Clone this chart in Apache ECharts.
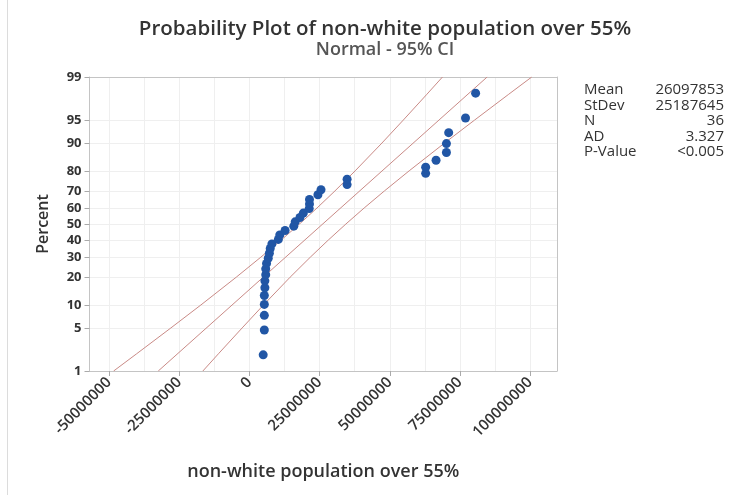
<!DOCTYPE html>
<html>
<head>
<meta charset="utf-8">
<script src="https://cdn.jsdelivr.net/npm/echarts@6/dist/echarts.min.js"></script>
<style>
  html, body { margin: 0; padding: 0; background: #fff; }
  #chart { width: 738px; height: 495px; }
</style>
</head>
<body>
<div id="chart"></div>
<script>
// percent (plotting positions) and observed values
const pointPct = [1.92, 4.67, 7.42, 10.16, 12.91, 15.66, 18.41, 21.15, 23.90, 26.65, 29.40, 32.14,
  34.89, 37.64, 40.38, 43.13, 45.88, 48.63, 51.37, 54.12, 56.87, 59.62, 62.36, 65.11,
  67.86, 70.60, 73.35, 76.10, 78.85, 81.59, 84.34, 87.09, 89.84, 92.58, 95.33, 98.08];
const pointX = [4900000, 5300000, 5300000, 5300000, 5300000, 5500000, 5500000, 5800000, 5800000, 6100000,
  6700000, 7100000, 7400000, 8000000, 10300000, 10800000, 12700000, 15800000, 16300000, 18000000,
  19200000, 21300000, 21400000, 21400000, 24400000, 25500000, 34800000, 34800000,
  62800000, 62800000, 66500000, 70200000, 70200000, 71000000, 77000000, 80600000];

// fitted line and 95% CI bands
const fitPct = [1, 99];
const fitX = [-32500000, 84700000];
const ciPct = [1, 2, 5, 10, 20, 30, 40, 50, 60, 70, 80, 90, 95, 98, 99];
const ciLeftX = [-48400000, -40200000, -28000000, -17300000, -4700000, 4070000, 11320000, 17830000,
  24080000, 30490000, 37680000, 47220000, 54830000, 63250000, 68790000];
const ciRightX = [-16600000, -11050000, -2600000, 5000000, 14500000, 21710000, 28120000, 34370000,
  40880000, 48130000, 56920000, 69540000, 80230000, 92410000, 100590000];

// axis ticks
const yTickPct = [1, 5, 10, 20, 30, 40, 50, 60, 70, 80, 90, 95, 99];
const xTicks = [-50000000, -25000000, 0, 25000000, 50000000, 75000000, 100000000];
const xGridTicks = [-50000000, -37500000, -25000000, -12500000, 0, 12500000, 25000000, 37500000,
  50000000, 62500000, 75000000, 87500000, 100000000];

const statNames = ['Mean', 'StDev', 'N', 'AD', 'P-Value'];
const statValues = ['26097853', '25187645', '36', '3.327', '<0.005'];

// inverse normal CDF (Acklam) -> probability scale
function invNorm(p) {
  const a = [-39.6968302866538, 220.946098424521, -275.928510446969, 138.357751867269, -30.6647980661472, 2.50662827745924];
  const b = [-54.4760987982241, 161.585836858041, -155.698979859887, 66.8013118877197, -13.2806815528857];
  const c = [-0.00778489400243029, -0.322396458041136, -2.40075827716184, -2.54973253934373, 4.37466414146497, 2.93816398269878];
  const d = [0.00778469570904146, 0.32246712907004, 2.445134137143, 3.75440866190742];
  const pl = 0.02425;
  let q, r;
  if (p < pl) {
    q = Math.sqrt(-2 * Math.log(p));
    return (((((c[0] * q + c[1]) * q + c[2]) * q + c[3]) * q + c[4]) * q + c[5]) / ((((d[0] * q + d[1]) * q + d[2]) * q + d[3]) * q + 1);
  }
  if (p > 1 - pl) {
    q = Math.sqrt(-2 * Math.log(1 - p));
    return -(((((c[0] * q + c[1]) * q + c[2]) * q + c[3]) * q + c[4]) * q + c[5]) / ((((d[0] * q + d[1]) * q + d[2]) * q + d[3]) * q + 1);
  }
  q = p - 0.5;
  r = q * q;
  return (((((a[0] * r + a[1]) * r + a[2]) * r + a[3]) * r + a[4]) * r + a[5]) * q / (((((b[0] * r + b[1]) * r + b[2]) * r + b[3]) * r + b[4]) * r + 1);
}
const z = (pct) => invNorm(pct / 100);

const yTickZ = yTickPct.map(z);
const yMin = z(1), yMax = z(99);
const xMin = -57000000, xMax = 109600000;

const pairs = (xs, ps) => xs.map((x, i) => [x, z(ps[i])]);

const textColor = '#333';
const fontFamily = '"Open Sans", "Noto Sans", sans-serif';
const bandColor = '#c98a86';

// stats table, one text per row
const statFont = '15px "Open Sans", "Noto Sans", sans-serif';
const statGraphics = [];
statNames.forEach((name, i) => {
  statGraphics.push({
    type: 'text',
    style: { x: 584, y: 90 + i * 15.5, text: name, fill: textColor, font: statFont, align: 'left', verticalAlign: 'middle' }
  });
  statGraphics.push({
    type: 'text',
    style: { x: 724, y: 90 + i * 15.5, text: statValues[i], fill: textColor, font: statFont, align: 'right', verticalAlign: 'middle' }
  });
});

const chart = echarts.init(document.getElementById('chart'));

chart.setOption({
  backgroundColor: '#fff',
  animation: false,
  title: {
    text: 'Probability Plot of non-white population over 55%',
    subtext: 'Normal - 95% CI',
    left: 380,
    textAlign: 'center',
    top: 14,
    itemGap: 1,
    textStyle: { color: '#333', fontSize: 20.5, fontWeight: 600, fontFamily },
    subtextStyle: { color: '#555', fontSize: 18, fontWeight: 600, fontFamily }
  },
  grid: { left: 89.5, right: 181, top: 77, bottom: 124, outerBoundsMode: 'none' },
  xAxis: [
    {
      type: 'value',
      min: xMin,
      max: xMax,
      name: 'non-white population over 55%',
      nameLocation: 'middle',
      nameGap: 92,
      nameTextStyle: { color: textColor, fontSize: 18, fontWeight: 600, fontFamily },
      axisLine: { show: true, onZero: false, lineStyle: { color: '#c4c4c4' } },
      axisTick: { show: true, customValues: xTicks, length: 5, lineStyle: { color: '#aaa' } },
      axisLabel: {
        customValues: xTicks,
        rotate: 45,
        color: textColor,
        fontSize: 15,
        fontWeight: 600,
        fontFamily,
        margin: 9,
        formatter: (v) => String(Math.round(v))
      },
      splitLine: { show: false }
    },
    {
      type: 'value',
      min: xMin,
      max: xMax,
      position: 'top',
      axisLine: { show: true, onZero: false, lineStyle: { color: '#c4c4c4' } },
      axisTick: { show: false, customValues: xGridTicks },
      axisLabel: { show: false, customValues: xGridTicks },
      splitLine: { show: true, lineStyle: { color: '#efefef' } }
    }
  ],
  yAxis: [
    {
      type: 'value',
      min: yMin,
      max: yMax,
      name: 'Percent',
      nameLocation: 'middle',
      nameGap: 38,
      nameTextStyle: { color: textColor, fontSize: 16, fontWeight: 600, fontFamily },
      axisLine: { show: true, onZero: false, lineStyle: { color: '#c4c4c4' } },
      axisTick: { show: true, customValues: yTickZ, length: 5, lineStyle: { color: '#aaa' } },
      axisLabel: {
        customValues: yTickZ,
        color: textColor,
        fontSize: 13,
        fontFamily,
        fontWeight: 'bold',
        margin: 8,
        formatter: (v) => {
          let best = yTickPct[0];
          yTickPct.forEach((p) => { if (Math.abs(z(p) - v) < Math.abs(z(best) - v)) best = p; });
          return String(best);
        }
      },
      splitLine: { show: true, lineStyle: { color: '#efefef' } }
    },
    {
      type: 'value',
      min: yMin,
      max: yMax,
      position: 'right',
      axisLine: { show: true, onZero: false, lineStyle: { color: '#c4c4c4' } },
      axisTick: { show: false },
      axisLabel: { show: false },
      splitLine: { show: false }
    }
  ],
  graphic: [
    {
      type: 'line',
      shape: { x1: 7.5, y1: 0, x2: 7.5, y2: 495 },
      style: { stroke: '#dcdcdc', lineWidth: 1 }
    }
  ].concat(statGraphics),
  series: [
    {
      name: 'CI lower',
      type: 'line',
      data: pairs(ciLeftX, ciPct),
      showSymbol: false,
      lineStyle: { color: bandColor, width: 1 },
      z: 2
    },
    {
      name: 'CI upper',
      type: 'line',
      data: pairs(ciRightX, ciPct),
      showSymbol: false,
      lineStyle: { color: bandColor, width: 1 },
      z: 2
    },
    {
      name: 'Fit',
      type: 'line',
      data: pairs(fitX, fitPct),
      showSymbol: false,
      lineStyle: { color: bandColor, width: 1 },
      z: 2
    },
    {
      name: 'Data',
      type: 'scatter',
      data: pairs(pointX, pointPct),
      symbolSize: 9,
      itemStyle: { color: '#2156a5', opacity: 1 },
      z: 3
    }
  ]
});
</script>
</body>
</html>
